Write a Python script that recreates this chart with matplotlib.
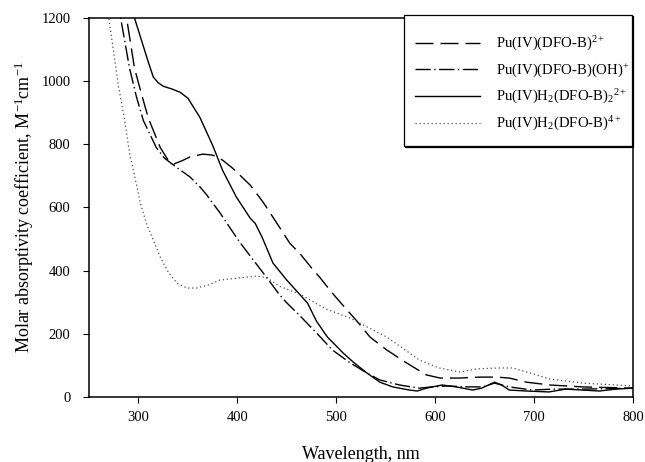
import matplotlib
matplotlib.use("Agg")
import matplotlib.pyplot as plt
from matplotlib.patches import Rectangle

plt.rcParams['font.family'] = ['Liberation Serif', 'DejaVu Serif']
plt.rcParams['mathtext.fontset'] = 'custom'
plt.rcParams['mathtext.rm'] = 'Liberation Serif'
plt.rcParams['mathtext.it'] = 'Liberation Serif:italic'
plt.rcParams['mathtext.default'] = 'regular'

# Pu(IV)(DFO-B)2+  (dashed)
wl_a = [279, 288, 296, 303, 310, 322, 330, 336, 344, 352, 365, 375, 385, 395, 413, 426,
        440, 453, 463, 476, 483, 496, 511, 521, 534, 551, 571, 591, 605, 625, 645, 662,
        675, 692, 716, 749, 800]
ep_a = [1400, 1200, 1041, 960, 883, 790, 750, 738, 748, 760, 769, 766, 750, 725, 671, 617,
        550, 487, 455, 405, 380, 329, 275, 240, 190, 149, 108, 70, 60, 60, 63, 63,
        60, 47, 38, 32, 28]

# Pu(IV)(DFO-B)(OH)+  (dash-dot)
wl_b = [274, 282, 291, 298, 305, 318, 326, 333, 339, 352, 362, 369, 375, 382, 389, 402,
        416, 430, 443, 450, 463, 480, 496, 514, 531, 544, 564, 584, 597, 612, 632, 648,
        660, 675, 698, 719, 749, 800]
ep_b = [1400, 1200, 1041, 950, 875, 790, 757, 740, 726, 697, 666, 640, 614, 585, 552, 492,
        434, 377, 322, 298, 258, 203, 149, 108, 76, 54, 38, 28, 32, 35, 32, 32,
        44, 32, 22, 25, 25, 28]

# Pu(IV)H2(DFO-B)2 2+  (solid)
wl_c = [291, 296, 304, 310, 315, 320, 325, 334, 342, 350, 362, 375, 385, 399, 413, 418,
        425, 436, 450, 463, 471, 480, 491, 497, 507, 517, 531, 544, 557, 574, 582, 591,
        607, 621, 638, 647, 660, 667, 675, 692, 715, 732, 749, 766, 783, 800]
ep_c = [1320, 1200, 1120, 1060, 1013, 995, 984, 975, 965, 946, 886, 797, 718, 633, 566, 550,
        506, 424, 370, 325, 297, 240, 190, 171, 139, 111, 76, 47, 32, 22, 19, 28,
        38, 32, 22, 28, 47, 38, 22, 19, 16, 25, 22, 19, 25, 28]

# Pu(IV)H2(DFO-B) 4+  (dotted)
wl_d = [264, 270, 275, 280, 286, 291, 297, 302, 308, 315, 322, 330, 339, 349, 359, 370,
        382, 402, 420, 430, 443, 463, 490, 514, 531, 551, 567, 584, 604, 625, 642, 665,
        678, 696, 716, 749, 800]
ep_d = [1400, 1200, 1090, 980, 877, 772, 687, 614, 550, 497, 443, 396, 360, 345, 345, 354,
        370, 377, 383, 377, 350, 326, 278, 250, 222, 190, 155, 117, 92, 79, 89, 92,
        92, 76, 57, 44, 35]

labels = [r'Pu(IV)(DFO-B)$^{2+}$',
          r'Pu(IV)(DFO-B)(OH)$^{+}$',
          r'Pu(IV)H$_2$(DFO-B)$_2$$^{2+}$',
          r'Pu(IV)H$_2$(DFO-B)$^{4+}$']

x_ticks = [300, 400, 500, 600, 700, 800]
y_ticks = [0, 200, 400, 600, 800, 1000, 1200]

W, H = 645, 462
fig = plt.figure(figsize=(6.45, 4.62), dpi=100)
ax = fig.add_axes([89/W, 65/H, 544/W, 379/H])

lw = 1.0
ax.plot(wl_a, ep_a, color='black', lw=lw, dashes=(13, 5), label=labels[0])
ax.plot(wl_b, ep_b, color='black', lw=lw, dashes=(11, 2.5, 1, 2.5), label=labels[1])
ax.plot(wl_c, ep_c, color='black', lw=lw, label=labels[2])
ax.plot(wl_d, ep_d, color='0.3', lw=0.9, dashes=(1, 2.2), label=labels[3])

ax.set_xlim(250, 800)
ax.set_ylim(0, 1200)
ax.set_xticks(x_ticks)
ax.set_yticks(y_ticks)
ax.tick_params(direction='out', length=4.3, width=0.8, labelsize=10.5)
ax.tick_params(axis='x', pad=6)
ax.tick_params(axis='y', pad=9)
for s in ax.spines.values():
    s.set_linewidth(1.1)

ax.set_xlabel('Wavelength, nm', fontsize=13)
ax.set_ylabel(r'Molar absorptivity coefficient, M$^{-1}$cm$^{-1}$', fontsize=13)
ax.xaxis.set_label_coords(0.5, -0.128)
ax.yaxis.set_label_coords(-0.098, 0.5)

# legend frame (with a thin drop shadow) drawn separately from the entries
fx0, fy0, fx1, fy1 = 404, 15, 632, 146
shadow = Rectangle((fx0 / W + 1.3 / W, 1 - fy1 / H - 1.3 / H), (fx1 - fx0) / W, (fy1 - fy0) / H,
                   transform=fig.transFigure, facecolor='black', edgecolor='black',
                   lw=0.9, zorder=9)
frame = Rectangle((fx0 / W, 1 - fy1 / H), (fx1 - fx0) / W, (fy1 - fy0) / H,
                  transform=fig.transFigure, facecolor='white', edgecolor='black',
                  lw=0.9, zorder=10)
fig.add_artist(shadow)
fig.add_artist(frame)

handles, _ = ax.get_legend_handles_labels()
leg = fig.legend(handles, labels, loc='upper left', bbox_to_anchor=(415 / W, 1 - 35 / H),
                 bbox_transform=fig.transFigure,
                 fontsize=10.6, frameon=False, handlelength=4.4, handletextpad=1.1,
                 labelspacing=0.58, borderpad=0, borderaxespad=0)
leg.set_zorder(11)

fig.savefig('out.png', dpi=100)
